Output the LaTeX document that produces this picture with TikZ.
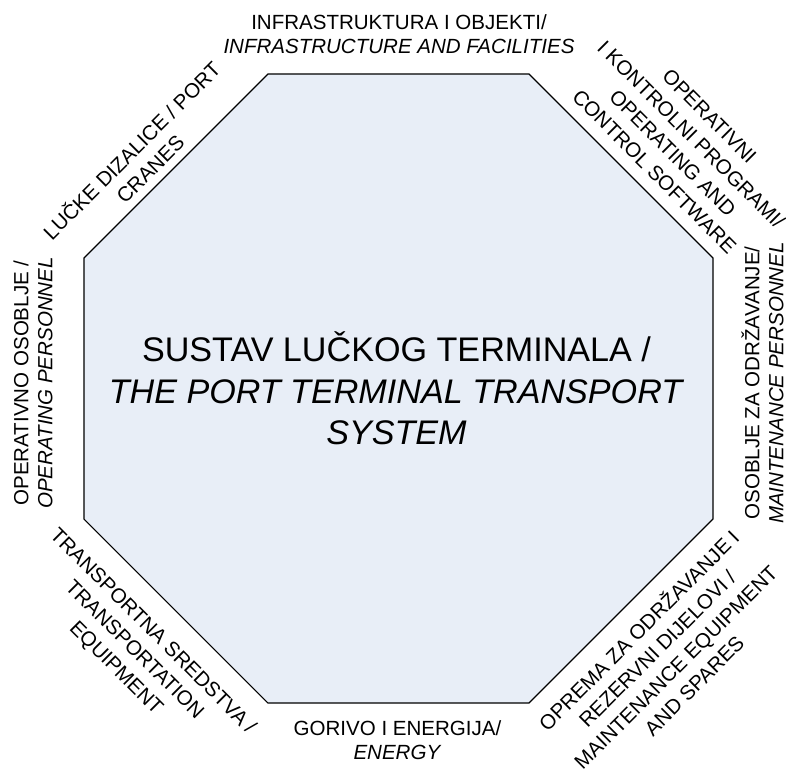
\documentclass[tikz,border=0pt]{standalone}
\usepackage{fontspec}
\setmainfont{Liberation Sans}
\definecolor{sysblue}{RGB}{232,238,247}
\tikzset{
  lbl/.style={align=center, inner sep=0pt, font=\fontsize{15.4}{18}\selectfont},
  dlbl/.style={lbl, font=\fontsize{15.4}{19.5}\selectfont},
}
\begin{document}
\begin{tikzpicture}[x=0.75pt,y=0.75pt]
\useasboundingbox (-398.5,-383.5) rectangle (387.5,388.5);
\draw[line width=0.8pt, fill=sysblue] (-130.5,314.5) -- (130.5,314.5) -- (314.5,130.5) -- (314.5,-130.5)
  -- (130.5,-314.5) -- (-130.5,-314.5) -- (-314.5,-130.5) -- (-314.5,130.5) -- cycle;
\node[align=center, font=\fontsize{25.6}{31.1}\selectfont] (sys) at (-2,0) {SUSTAV LUČKOG TERMINALA /\\ \textit{THE PORT TERMINAL TRANSPORT}\\ \textit{SYSTEM}};
\node[lbl] (infra) at (0.5,354.5) {INFRASTRUKTURA I OBJEKTI/\\ \textit{INFRASTRUCTURE AND FACILITIES}};
\node[dlbl, rotate=45] (cranes) at (-258.5,229.5) {LUČKE DIZALICE / PORT\\ CRANES};
\node[dlbl, rotate=-45] (software) at (283.5,244.5) {OPERATIVNI\\ I KONTROLNI PROGRAMI/\\ OPERATING AND\\ CONTROL SOFTWARE};
\node[lbl, rotate=90] (opstaff) at (-365.5,5.5) {OPERATIVNO OSOBLJE /\\ \textit{OPERATING PERSONNEL}};
\node[lbl, rotate=90] (mstaff) at (364,5.5) {OSOBLJE ZA ODRŽAVANJE/\\ \textit{MAINTENANCE PERSONNEL}};
\node[dlbl, rotate=-45] (transport) at (-264.5,-261.5) {TRANSPORTNA SREDSTVA /\\ TRANSPORTATION\\ EQUIPMENT};
\node[lbl] (energy) at (-1,-351.5) {GORIVO I ENERGIJA/\\ \textit{ENERGY}};
\node[dlbl, rotate=45] (spares) at (267,-268.5) {OPREMA ZA ODRŽAVANJE I\\ REZERVNI DIJELOVI /\\ MAINTENANCE EQUIPMENT\\ AND SPARES};
\end{tikzpicture}
\end{document}
